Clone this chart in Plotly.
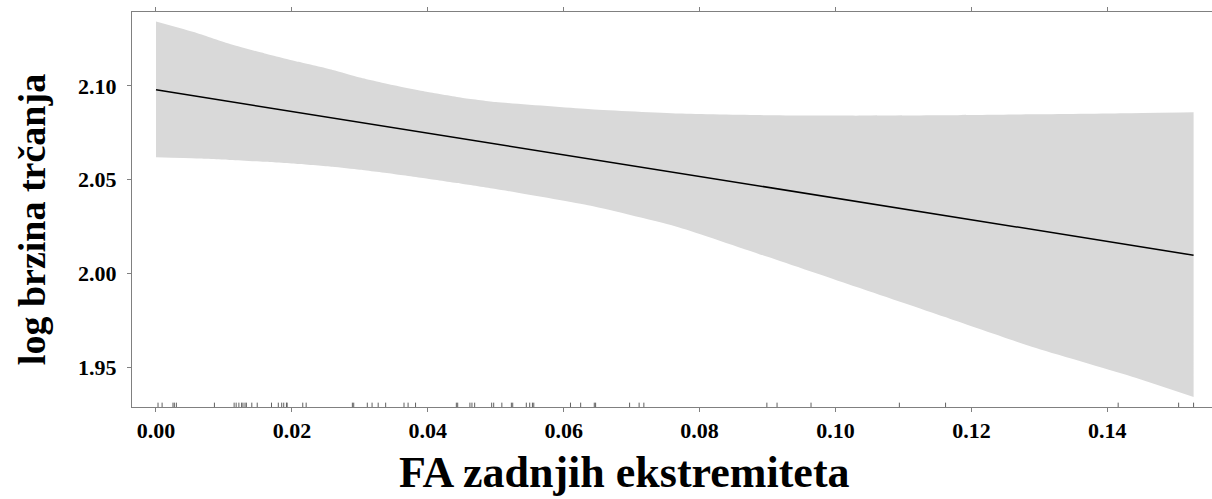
import plotly.graph_objects as go

# ---- data ----
band_x = [0.0, 0.006, 0.011, 0.016, 0.021, 0.026, 0.030, 0.035, 0.040, 0.045, 0.050,
          0.064, 0.077, 0.090, 0.103, 0.116, 0.129, 0.143, 0.1527]
band_upper = [2.1343, 2.1282, 2.1222, 2.1173, 2.1128, 2.1085, 2.1045, 2.1003, 2.0967, 2.0937,
              2.0914, 2.0875, 2.0852, 2.0843, 2.0841, 2.0843, 2.0848, 2.0854, 2.0859]
band_lower = [2.0619, 2.0613, 2.0605, 2.0595, 2.0583, 2.0568, 2.0552, 2.0530, 2.0505, 2.0478,
              2.0450, 2.0360, 2.0245, 2.0088, 1.9928, 1.9768, 1.9607, 1.9456, 1.9340]

fit_x = [0.0, 0.05, 0.10, 0.1527]
fit_y = [2.0979, 2.0690, 2.0402, 2.0097]

rug_x = [0.0003, 0.0009, 0.0025, 0.0027, 0.0030, 0.0086, 0.0115, 0.0118, 0.0122, 0.0126,
         0.0128, 0.0131, 0.0133, 0.0141, 0.0149, 0.0170, 0.0180, 0.0185, 0.0188, 0.0192,
         0.0193, 0.0216, 0.0221, 0.0289, 0.0291, 0.0311, 0.0318, 0.0327, 0.0338, 0.0365,
         0.0371, 0.0382, 0.0442, 0.0444, 0.0462, 0.0465, 0.0469, 0.0494, 0.0497, 0.0509,
         0.0523, 0.0525, 0.0545, 0.0550, 0.0554, 0.0556, 0.0610, 0.0625, 0.0645, 0.0647,
         0.0697, 0.0711, 0.0718, 0.0899, 0.0914, 0.0964, 0.1094, 0.1162, 0.1416, 0.1505,
         0.1527]

x_ticks = [0.00, 0.02, 0.04, 0.06, 0.08, 0.10, 0.12, 0.14]
x_tick_text = ["0.00", "0.02", "0.04", "0.06", "0.08", "0.10", "0.12", "0.14"]
y_ticks = [1.95, 2.00, 2.05, 2.10]
y_tick_text = ["1.95", "2.00", "2.05", "2.10"]

x_title = "FA zadnjih ekstremiteta"
y_title = "log brzina trčanja"

FONT = "Liberation Serif"
AXC = "#808080"

fig = go.Figure()
fig.add_trace(go.Scatter(x=band_x, y=band_lower, mode="lines",
                         line=dict(width=0, shape="spline", smoothing=0.5),
                         hoverinfo="skip", showlegend=False))
fig.add_trace(go.Scatter(x=band_x, y=band_upper, mode="lines",
                         line=dict(width=0, shape="spline", smoothing=0.5),
                         fill="tonexty", fillcolor="#d9d9d9", hoverinfo="skip", showlegend=False))
fig.add_trace(go.Scatter(x=fit_x, y=fit_y, mode="lines", line=dict(color="black", width=1.5),
                         showlegend=False))

for rx in rug_x:
    fig.add_shape(type="line", xref="x", yref="paper", x0=rx, x1=rx, y0=0, y1=0.011,
                  line=dict(color="#606060", width=1))

fig.update_layout(
    width=1212, height=499,
    margin=dict(l=132, r=0, t=12, b=92),
    paper_bgcolor="white", plot_bgcolor="white",
    xaxis=dict(range=[-0.00353, 0.15541], tickvals=x_ticks, ticktext=x_tick_text,
               showline=True, linecolor=AXC, linewidth=1, mirror="ticks",
               ticks="outside", ticklen=4, tickcolor=AXC, showgrid=False, zeroline=False,
               tickfont=dict(family=FONT, size=22, color="black", weight="bold")),
    yaxis=dict(range=[1.9287, 2.1394], tickvals=y_ticks, ticktext=y_tick_text,
               showline=True, linecolor=AXC, linewidth=1, mirror=False,
               ticks="outside", ticklen=4, tickcolor=AXC, showgrid=False, zeroline=False,
               ticklabelstandoff=6,
               tickfont=dict(family=FONT, size=22, color="black", weight="bold")),
    annotations=[
        dict(text=x_title, xref="paper", yref="paper", x=0.4556, y=-0.165,
             xanchor="center", yanchor="middle", showarrow=False,
             font=dict(family=FONT, size=44, color="black", weight="bold")),
        dict(text=y_title, xref="paper", yref="paper", x=-100 / 1080, y=0.473,
             xanchor="center", yanchor="middle", textangle=-90, showarrow=False,
             font=dict(family=FONT, size=38, color="black", weight="bold")),
    ],
)

fig.write_html("out.html", config={"displayModeBar": False},
               post_script="document.body.style.margin='0';document.body.style.overflow='hidden';")
